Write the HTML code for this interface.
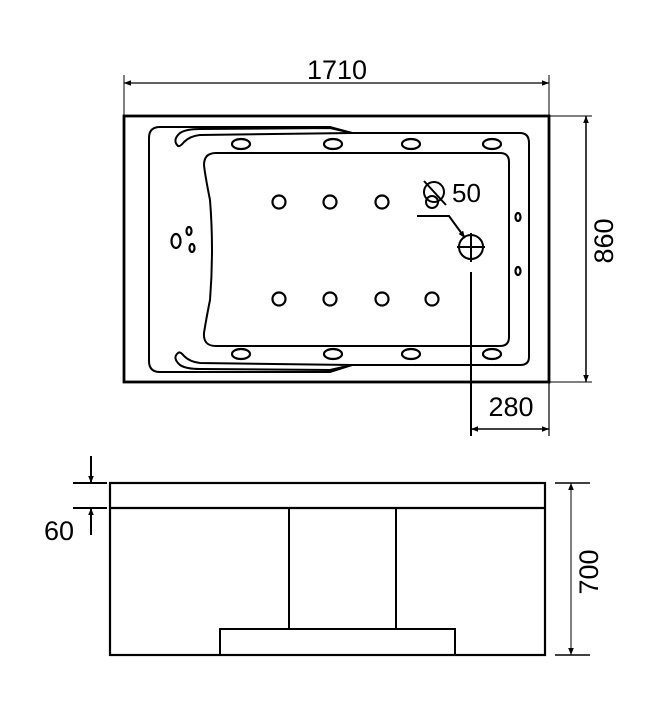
<!DOCTYPE html>
<html><head><style>
html,body{margin:0;padding:0;background:#fff;}
svg{display:block;}
text{font-family:"Liberation Sans",sans-serif;fill:#000;}
</style></head><body>
<svg width="667" height="709" viewBox="0 0 667 709" xmlns="http://www.w3.org/2000/svg">
<defs>
<marker id="a" viewBox="0 0 10 10" refX="10" refY="5" markerWidth="16" markerHeight="7" orient="auto-start-reverse" markerUnits="userSpaceOnUse"><path d="M0,1 L10,5 L0,9 z" fill="#000"/></marker>
</defs>
<g fill="none" stroke="#000" stroke-width="2">
<rect x="124" y="116" width="425" height="266" stroke-width="2.8"/>
<path d="M160,127 L330,127 L352,133 L520,133 Q529,133 529,143 L529,357 Q529,365 520,365 L352,365 L330,372 L160,372 Q149,372 149,361 L149,138 Q149,127 160,127 Z"/>
<path d="M178,146 Q172,140 180,133 Q186,129 200,129 L330,128 L352,133 L200,135 Q190,136 184,142 Q180,147 178,146 Z"/>
<path d="M178,353 Q172,358 180,365 Q186,369 200,369 L330,370 L352,365 L200,363 Q190,362 184,356 Q180,351 178,353 Z"/>
<path d="M216,153 L500,153 Q509,153 509,162 L509,337 Q509,346 500,346 L216,346 Q203,346 204,333 Q206,320 210,300 Q214,250 210,200 Q205,175 204,165 Q204,153 216,153 Z"/>
<g stroke-width="2.2">
<ellipse cx="241" cy="144" rx="9" ry="5"/><ellipse cx="333" cy="144" rx="9" ry="5"/><ellipse cx="411" cy="144" rx="9" ry="5"/><ellipse cx="492" cy="144" rx="9" ry="5"/>
<ellipse cx="241" cy="354" rx="9" ry="5"/><ellipse cx="333" cy="354" rx="9" ry="5"/><ellipse cx="411" cy="354" rx="9" ry="5"/><ellipse cx="492" cy="354" rx="9" ry="5"/>
<circle cx="279" cy="202" r="6.5"/><circle cx="330" cy="202" r="6.5"/><circle cx="382" cy="202" r="6.5"/>
<circle cx="279" cy="299" r="6.5"/><circle cx="330" cy="299" r="6.5"/><circle cx="382" cy="299" r="6.5"/><circle cx="432" cy="299" r="6.5"/>
<ellipse cx="518" cy="217" rx="2.5" ry="4"/><ellipse cx="518" cy="271" rx="2.5" ry="4"/>
<ellipse cx="176" cy="241" rx="4.5" ry="7"/><ellipse cx="189" cy="231" rx="2.5" ry="4"/><ellipse cx="192" cy="248" rx="2.5" ry="4"/>
</g>
<circle cx="434" cy="192" r="10"/>
<circle cx="432" cy="202" r="6"/>
<line x1="424" y1="181" x2="446" y2="205"/>
<path d="M417,216 L449,216 L465,238" marker-end="url(#a)"/>
<circle cx="471" cy="247" r="12"/>
<line x1="457" y1="247" x2="485" y2="247"/><line x1="471" y1="233" x2="471" y2="262"/>
<line x1="471" y1="272" x2="471" y2="436"/>
<line x1="124" y1="75" x2="124" y2="116" stroke-width="1"/>
<line x1="549" y1="75" x2="549" y2="116" stroke-width="1"/>
<line x1="124" y1="83" x2="549" y2="83" marker-start="url(#a)" marker-end="url(#a)" stroke-width="1.2"/>
<line x1="549" y1="116" x2="592" y2="116" stroke-width="1"/>
<line x1="549" y1="382" x2="592" y2="382" stroke-width="1"/>
<line x1="586" y1="116" x2="586" y2="382" marker-start="url(#a)" marker-end="url(#a)" stroke-width="1.5"/>
<line x1="549" y1="382" x2="549" y2="436" stroke-width="1.2"/>
<line x1="471" y1="429" x2="549" y2="429" marker-start="url(#a)" marker-end="url(#a)" stroke-width="1.5"/>

<rect x="110" y="483" width="435" height="172" stroke-width="2.2"/>
<line x1="110" y1="508" x2="545" y2="508" stroke-width="2.2"/>
<line x1="289" y1="508" x2="289" y2="629"/>
<line x1="396" y1="508" x2="396" y2="629"/>
<rect x="220" y="629" width="235" height="26"/>
<line x1="555" y1="483" x2="590" y2="483" stroke-width="1.5"/>
<line x1="555" y1="655" x2="590" y2="655" stroke-width="1.5"/>
<line x1="571" y1="483" x2="571" y2="655" marker-start="url(#a)" marker-end="url(#a)" stroke-width="1"/>
<line x1="73" y1="483" x2="107" y2="483" stroke-width="2"/>
<line x1="73" y1="508" x2="107" y2="508" stroke-width="2"/>
<line x1="91" y1="456" x2="91" y2="483" marker-end="url(#a)" stroke-width="2"/>
<line x1="91" y1="535" x2="91" y2="508" marker-end="url(#a)" stroke-width="2"/>
</g>
<text x="337" y="79" font-size="27" text-anchor="middle">1710</text>
<text x="452" y="202" font-size="26">50</text>
<text x="511" y="416" font-size="27" text-anchor="middle">280</text>
<text x="59" y="540" font-size="27" text-anchor="middle">60</text>
<text transform="translate(613,241) rotate(-90)" font-size="27" text-anchor="middle">860</text>
<text transform="translate(598,572) rotate(-90)" font-size="27" text-anchor="middle">700</text>
</svg>
</body></html>
